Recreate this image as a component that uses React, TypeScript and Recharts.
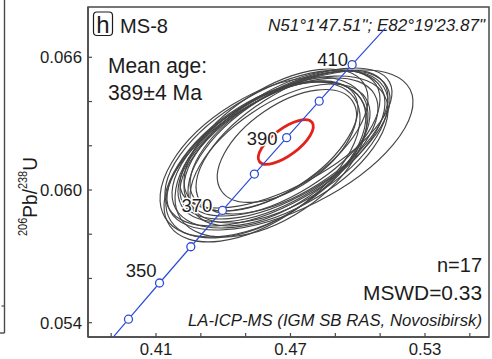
import React from 'react';
import { ScatterChart, Scatter, XAxis, YAxis, ReferenceArea, Customized } from 'recharts';

// ---------------- data ----------------
// x axis ticks (207Pb/235U) and labelled values
const xTicks = [0.39, 0.41, 0.43, 0.45, 0.47, 0.49, 0.51, 0.53, 0.55];
const xTickLabels = ['0.41', '0.47', '0.53'];
// y axis ticks (206Pb/238U) and labelled values
const yTicks = [0.054, 0.056, 0.058, 0.06, 0.062, 0.064, 0.066];
const yTickLabels = ['0.054', '0.060', '0.066'];

// concordia curve (age in Ma)
const concAges = [330, 340, 350, 360, 370, 380, 390, 400, 410, 420];
const concPb207U235 = [0.38403, 0.39773, 0.41157, 0.42553, 0.43964, 0.45389, 0.46828, 0.48281, 0.49749, 0.51231];
const concPb206U238 = [0.052524, 0.054158, 0.055795, 0.057434, 0.059075, 0.06072, 0.062367, 0.064016, 0.065667, 0.067322];
const markerAges = [340, 350, 360, 370, 380, 390, 400, 410];
const labelAges = [350, 370, 390, 410];

// 17 analyses: centre, error half-extent and error correlation
const spotPb207U235 = [0.46978, 0.46308, 0.46532, 0.45900, 0.46755, 0.46130, 0.46442, 0.46621, 0.45820, 0.46888, 0.46353, 0.45730, 0.46532, 0.47067, 0.46264, 0.46840, 0.46799];
const spotPb206U238 = [0.061809, 0.061899, 0.061718, 0.061360, 0.062035, 0.061400, 0.061809, 0.062125, 0.061490, 0.061944, 0.062261, 0.061270, 0.061583, 0.06217, 0.06199, 0.061990, 0.062351];
const spotErr207 = [0.05487, 0.04907, 0.04818, 0.04461, 0.04684, 0.04282, 0.04461, 0.04372, 0.04639, 0.04461, 0.04104, 0.04372, 0.04015, 0.04282, 0.03747, 0.03100, 0.04729];
const spotErr206 = [0.003617, 0.003527, 0.003436, 0.003527, 0.003346, 0.003527, 0.003255, 0.003300, 0.003617, 0.003436, 0.003210, 0.003617, 0.003210, 0.003255, 0.002940, 0.002550, 0.003165];
const spotRho = [0.6, 0.58, 0.55, 0.55, 0.62, 0.5, 0.58, 0.6, 0.52, 0.58, 0.58, 0.55, 0.58, 0.62, 0.58, 0.55, 0.65];

// concordia age (mean) ellipse
const meanPb207U235 = [0.4679];
const meanPb206U238 = [0.06217];
const meanErr207 = [0.01227];
const meanErr206 = [0.001008];
const meanRho = [0.7];

// ---------------- layout / style ----------------
const CHART_W = 492;
const CHART_H = 359;
const MARGIN = { top: 7, right: 3, bottom: 0, left: 8 };
const Y_AXIS_W = 80;
const X_AXIS_H = 22;
const PLOT_W = CHART_W - MARGIN.left - MARGIN.right - Y_AXIS_W;
const PLOT_H = CHART_H - MARGIN.top - MARGIN.bottom - X_AXIS_H;
const X_DOMAIN: [number, number] = [0.37967, 0.55855];
const Y_DOMAIN: [number, number] = [0.053353, 0.068274];
const KX = PLOT_W / (X_DOMAIN[1] - X_DOMAIN[0]);
const KY = PLOT_H / (Y_DOMAIN[1] - Y_DOMAIN[0]);

const FONT = '"Liberation Sans", Arial, Helvetica, sans-serif';
const INK = '#1c1c1c';
const FRAME = '#4a4a4a';
const GRAY = '#454545';
const RED = '#e2231c';
const BLUE = '#2c4dd6';

const spots = spotPb207U235.map((x, i) => ({ x, y: spotPb206U238[i], sx: spotErr207[i], sy: spotErr206[i], rho: spotRho[i] }));
const mean = meanPb207U235.map((x, i) => ({ x, y: meanPb206U238[i], sx: meanErr207[i], sy: meanErr206[i], rho: meanRho[i] }));
const concordia = concAges.map((age, i) => ({ age, x: concPb207U235[i], y: concPb206U238[i] }));

const LABEL_OFFSETS: Record<number, [number, number]> = {
  350: [-3, -6],
  370: [-10, 2],
  390: [-9, 7],
  410: [-4, 1],
};

function ellipseShape(stroke: string, width: number) {
  return (props: any) => {
    const { cx, cy, payload } = props;
    if (cx == null || cy == null || !payload) return <g />;
    const a = payload.sx * KX;
    const b = payload.sy * KY;
    const c = -payload.rho * a * b;
    const m = (a * a + b * b) / 2;
    const d = Math.sqrt(((a * a - b * b) / 2) ** 2 + c * c);
    const rx = Math.sqrt(m + d);
    const ry = Math.sqrt(Math.max(m - d, 0.0001));
    const ang = (0.5 * Math.atan2(2 * c, a * a - b * b) * 180) / Math.PI;
    return (
      <ellipse
        cx={cx}
        cy={cy}
        rx={rx}
        ry={ry}
        transform={`rotate(${ang} ${cx} ${cy})`}
        fill="none"
        stroke={stroke}
        strokeWidth={width}
      />
    );
  };
}

const concShape = (props: any) => {
  const { cx, cy, payload } = props;
  if (cx == null || cy == null || !payload) return <g />;
  const age = payload.age;
  const off = labelAges.includes(age) ? LABEL_OFFSETS[age] : null;
  return (
    <g>
      {off && (
        <text
          x={cx + off[0]}
          y={cy + off[1]}
          textAnchor="end"
          fontFamily={FONT}
          fontSize={18.5}
          fill={INK}
          stroke="#fff"
          strokeWidth={3}
          paintOrder="stroke"
        >
          {age}
        </text>
      )}
      {markerAges.includes(age) && <circle cx={cx} cy={cy} r={4} fill="#fff" stroke={BLUE} strokeWidth={1.3} />}
    </g>
  );
};

const renderXTick = (props: any) => {
  const { x, y, payload } = props;
  const lbl = Number(payload.value).toFixed(2);
  return (
    <g>
      <line x1={x} x2={x} y1={y} y2={y - 4} stroke={FRAME} strokeWidth={1.2} />
      {xTickLabels.includes(lbl) && (
        <text x={x} y={y + 18} textAnchor="middle" fontFamily={FONT} fontSize={16.8} fill={INK}>
          {lbl}
        </text>
      )}
    </g>
  );
};

const renderYTick = (props: any) => {
  const { x, y, payload } = props;
  const lbl = Number(payload.value).toFixed(3);
  return (
    <g>
      <line x1={x} x2={x + 4} y1={y} y2={y} stroke={FRAME} strokeWidth={1.2} />
      {yTickLabels.includes(lbl) && (
        <text x={x - 6} y={y + 6} textAnchor="end" fontFamily={FONT} fontSize={16.8} fill={INK}>
          {lbl}
        </text>
      )}
    </g>
  );
};

const Annotations = () => (
  <g fontFamily={FONT} fill={INK}>
    {/* edge of neighbouring panel */}
    <line x1={4.5} y1={0} x2={4.5} y2={333} stroke={FRAME} strokeWidth={1.4} />
    <line x1={0} y1={333} x2={4.5} y2={333} stroke={FRAME} strokeWidth={1.4} />
    <line x1={1.5} y1={306} x2={4.5} y2={306} stroke={FRAME} strokeWidth={1.2} />

    {/* panel letter and sample */}
    <rect x={93.5} y={12} width={19} height={23.5} rx={3.5} fill="none" stroke={INK} strokeWidth={1.2} />
    <text x={103} y={33} textAnchor="middle" fontSize={24}>h</text>
    <text x={120} y={33} fontSize={21} textLength={48} lengthAdjust="spacingAndGlyphs">MS-8</text>

    <text x={108} y={73} fontSize={21.5} textLength={99} lengthAdjust="spacingAndGlyphs">Mean age:</text>
    <text x={108} y={100} fontSize={21.5} textLength={94} lengthAdjust="spacingAndGlyphs">389±4 Ma</text>

    {/* coordinates */}
    <rect x={264} y={9} width={222} height={28} fill="#fff" />
    <text x={485} y={31} textAnchor="end" fontSize={17.2} fontStyle="italic" textLength={217} lengthAdjust="spacingAndGlyphs">
      N51°1'47.51"; E82°19'23.87"
    </text>

    <text x={482} y={272} textAnchor="end" fontSize={21} textLength={45} lengthAdjust="spacingAndGlyphs">n=17</text>
    <text x={482} y={300} textAnchor="end" fontSize={21} textLength={119} lengthAdjust="spacingAndGlyphs">MSWD=0.33</text>
    <text x={482} y={325.5} textAnchor="end" fontSize={16.5} fontStyle="italic" textLength={294} lengthAdjust="spacingAndGlyphs">
      LA-ICP-MS (IGM SB RAS, Novosibirsk)
    </text>

    {/* y axis title */}
    <text transform="translate(36.5,196.5) rotate(-90)" textAnchor="middle" fontSize={21} textLength={79} lengthAdjust="spacingAndGlyphs">
      <tspan fontSize={12} dy={-10}>206</tspan>
      <tspan dy={10}>Pb/</tspan>
      <tspan fontSize={12} dy={-10}>238</tspan>
      <tspan dy={10}>U</tspan>
    </text>
  </g>
);

export default function App() {
  return (
    <div style={{ position: 'absolute', left: 0, top: 0, width: CHART_W, height: CHART_H, background: '#fff' }}>
      <ScatterChart width={CHART_W} height={CHART_H} margin={MARGIN}>
        <XAxis
          type="number"
          dataKey="x"
          domain={X_DOMAIN}
          allowDataOverflow
          ticks={xTicks}
          interval={0}
          height={X_AXIS_H}
          tickSize={0}
          tickMargin={0}
          tickLine={false}
          axisLine={{ stroke: FRAME, strokeWidth: 1.5 }}
          tick={renderXTick}
        />
        <YAxis
          type="number"
          dataKey="y"
          domain={Y_DOMAIN}
          allowDataOverflow
          ticks={yTicks}
          interval={0}
          width={Y_AXIS_W}
          tickSize={0}
          tickMargin={0}
          tickLine={false}
          axisLine={{ stroke: FRAME, strokeWidth: 1.5 }}
          tick={renderYTick}
        />
        <ReferenceArea
          x1={X_DOMAIN[0]}
          x2={X_DOMAIN[1]}
          y1={Y_DOMAIN[0]}
          y2={Y_DOMAIN[1]}
          fill="none"
          fillOpacity={0}
          stroke={FRAME}
          strokeWidth={1.5}
          ifOverflow="visible"
        />
        <Scatter data={spots} shape={ellipseShape(GRAY, 1.15)} isAnimationActive={false} />
        <Scatter data={mean} shape={ellipseShape(RED, 2.8)} isAnimationActive={false} />
        <Scatter
          data={concordia}
          line={{ stroke: BLUE, strokeWidth: 1.2 }}
          lineType="joint"
          shape={concShape}
          isAnimationActive={false}
        />
        <Customized component={Annotations} />
      </ScatterChart>
    </div>
  );
}
